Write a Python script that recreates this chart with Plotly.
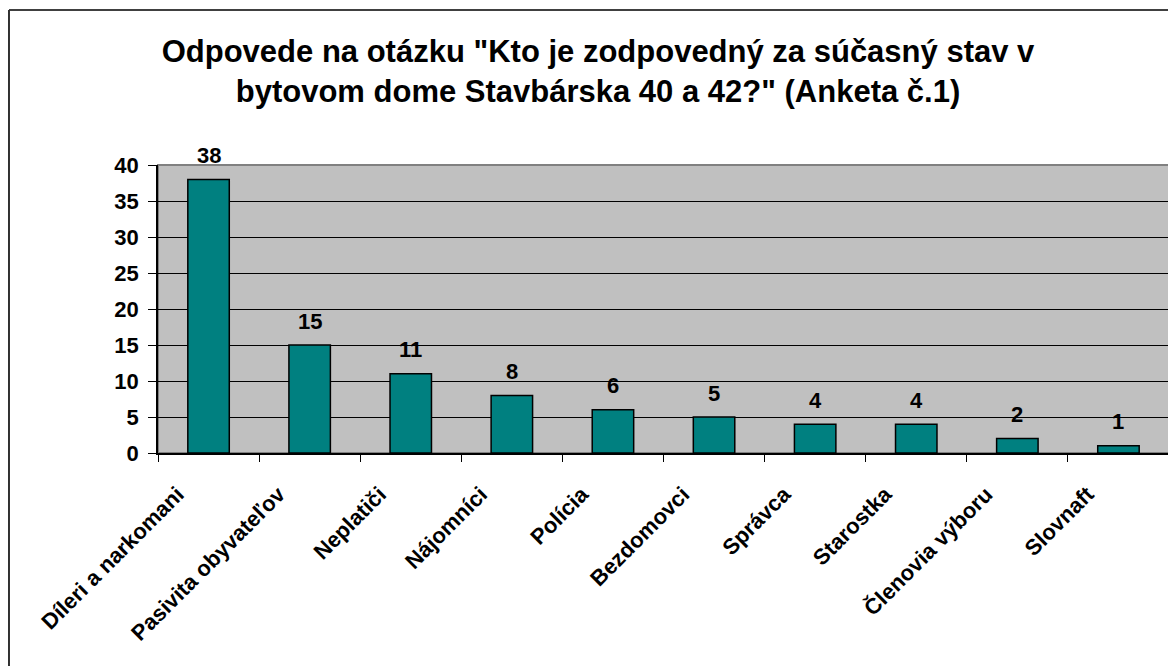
import plotly.graph_objects as go

categories = ["Díleri a narkomani", "Pasivita obyvateľov", "Neplatiči", "Nájomníci",
              "Polícia", "Bezdomovci", "Správca", "Starostka", "Členovia výboru", "Slovnaft"]
values = [38, 15, 11, 8, 6, 5, 4, 4, 2, 1]
y_ticks = [0, 5, 10, 15, 20, 25, 30, 35, 40]
title_text = ('Odpovede na otázku "Kto je zodpovedný za súčasný stav v<br>'
              'bytovom dome Stavbárska 40 a 42?" (Anketa č.1)')

FONT = "Liberation Sans, Arial, sans-serif"

fig = go.Figure()
fig.add_trace(go.Bar(
    x=categories, y=values,
    width=0.41,
    marker=dict(color="#008080", line=dict(color="#000000", width=1.5)),
    hoverinfo="x+y",
))

annotations = []
for c, v in zip(categories, values):
    annotations.append(dict(
        x=c, y=v, xref="x", yref="y", text=str(v), showarrow=False,
        yanchor="middle", yshift=24,
        font=dict(family=FONT, size=22, color="#000000", weight="bold"),
    ))

shapes = [
    # plot area frame (gray top/right)
    dict(type="rect", xref="paper", yref="paper", x0=0, x1=1, y0=0, y1=1,
         line=dict(color="#808080", width=2), layer="below"),
    # outer chart border (cropped)
    dict(type="line", xref="paper", yref="paper", x0=-0.1474, x1=1.2, y0=1.538, y1=1.538,
         line=dict(color="#000000", width=1.5)),
    dict(type="line", xref="paper", yref="paper", x0=-0.1474, x1=-0.1474, y0=1.538, y1=-1.0,
         line=dict(color="#303030", width=2)),
]

fig.update_layout(
    width=1176, height=666,
    margin=dict(l=150, r=15, t=157, b=221),
    paper_bgcolor="#FFFFFF",
    plot_bgcolor="#C0C0C0",
    showlegend=False,
    title=dict(
        text=title_text, x=590 / 1176, xanchor="center", y=1 - 54 / 666, yanchor="top",
        yref="container",
        font=dict(family=FONT, size=31, color="#000000", weight="bold"),
    ),
    annotations=annotations,
    shapes=shapes,
    xaxis=dict(
        type="category",
        tickangle=-45,
        tickfont=dict(family=FONT, size=22, color="#000000", weight="bold"),
        ticklabelstandoff=18, ticklabelshift=-31,
        showline=True, linecolor="#000000", linewidth=1.5,
        ticks="outside", tickson="boundaries", ticklen=7, tickcolor="#000000",
        showgrid=False,
    ),
    yaxis=dict(
        range=[0, 40],
        tickvals=y_ticks,
        ticktext=[str(t) for t in y_ticks],
        tickfont=dict(family=FONT, size=22, color="#000000", weight="bold"),
        ticklabelstandoff=5,
        showline=True, linecolor="#000000", linewidth=1.5,
        ticks="outside", ticklen=8, tickcolor="#000000",
        showgrid=True, gridcolor="#000000", gridwidth=1,
        zeroline=False,
    ),
)

fig.write_html("out.html")
